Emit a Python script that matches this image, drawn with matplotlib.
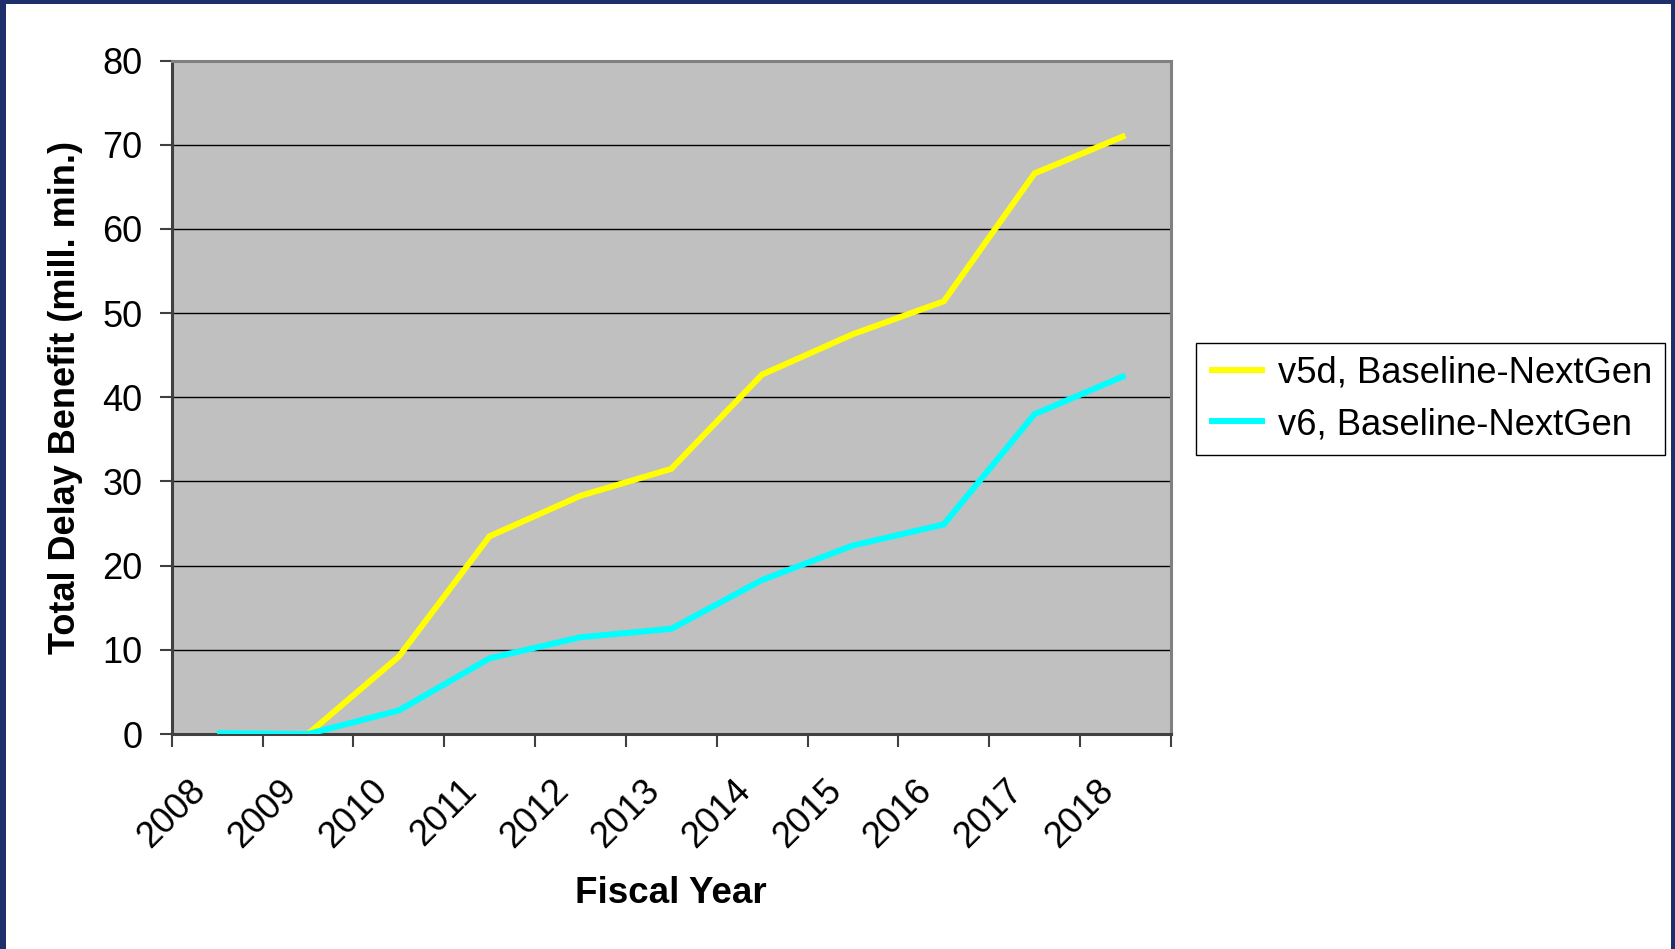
import matplotlib
matplotlib.use('Agg')
import matplotlib.pyplot as plt
from matplotlib.patches import Rectangle

# datos
years = ["2008", "2009", "2010", "2011", "2012", "2013", "2014", "2015", "2016", "2017", "2018"]
v5d = [0, 0, 9.2, 23.5, 28.3, 31.5, 42.7, 47.5, 51.4, 66.6, 71.1]
v6 = [0.1, 0, 2.8, 9.0, 11.5, 12.5, 18.3, 22.4, 24.9, 38.0, 42.6]

plt.rcParams['font.family'] = ['Liberation Sans', 'DejaVu Sans']

W, H = 1675, 949
fig = plt.figure(figsize=(W / 100, H / 100), dpi=100)
ax = fig.add_axes([0.1025, 0.2265, 0.5965, 0.7097])
ax.set_facecolor('#c0c0c0')

xs = [i + 0.5 for i in range(len(years))]
ax.plot(xs, v5d, color='#ffff00', linewidth=4.3, label='v5d, Baseline-NextGen',
        solid_joinstyle='miter', solid_capstyle='butt', zorder=3)
ax.plot(xs, v6, color='#00ffff', linewidth=4.3, label='v6, Baseline-NextGen',
        solid_joinstyle='miter', solid_capstyle='butt', zorder=4)

ax.set_xlim(0, len(years))
ax.set_ylim(0, 80)
ax.set_yticks(range(0, 81, 10))
ax.yaxis.grid(True, color='black', linewidth=1)
ax.set_axisbelow(True)

ax.set_xticks(range(len(years) + 1))
ax.set_xticklabels(years + [""], rotation=45, ha='center', va='top')
ax.tick_params(axis='x', length=9, width=1.5, pad=19, labelsize=26, colors='#404040',
               labelcolor='black')
ax.tick_params(axis='y', length=9, width=1.5, pad=12, labelsize=26, colors='#404040',
               labelcolor='black')

for s in ['left', 'bottom']:
    ax.spines[s].set_color('#404040')
    ax.spines[s].set_linewidth(2.2)
for s in ['top', 'right']:
    ax.spines[s].set_color('#808080')
    ax.spines[s].set_linewidth(2.2)

ax.set_xlabel('Fiscal Year', fontsize=26.5, fontweight='bold', labelpad=15)
ax.set_ylabel('Total Delay Benefit (mill. min.)', fontsize=26, fontweight='bold', labelpad=14)

leg = ax.legend(loc='upper left', bbox_to_anchor=(0.714, 0.6386),
                bbox_transform=fig.transFigure, fontsize=26.2, fancybox=False,
                framealpha=1, edgecolor='black', borderaxespad=0,
                handlelength=1.55, handletextpad=0.35, borderpad=0.35, labelspacing=0.45)
leg.get_frame().set_linewidth(1)

# marco azul de la diapositiva (arriba, izquierda, derecha)
navy = '#1f2f6b'
for (x0, y0, w, h) in [(0, H - 4, W, 4), (0, 0, 6, H), (W - 4, 0, 4, H)]:
    fig.patches.append(Rectangle((x0 / W, y0 / H), w / W, h / H, transform=fig.transFigure,
                                 facecolor=navy, edgecolor='none', zorder=10))

fig.savefig('out.png', dpi=100, facecolor='white')
